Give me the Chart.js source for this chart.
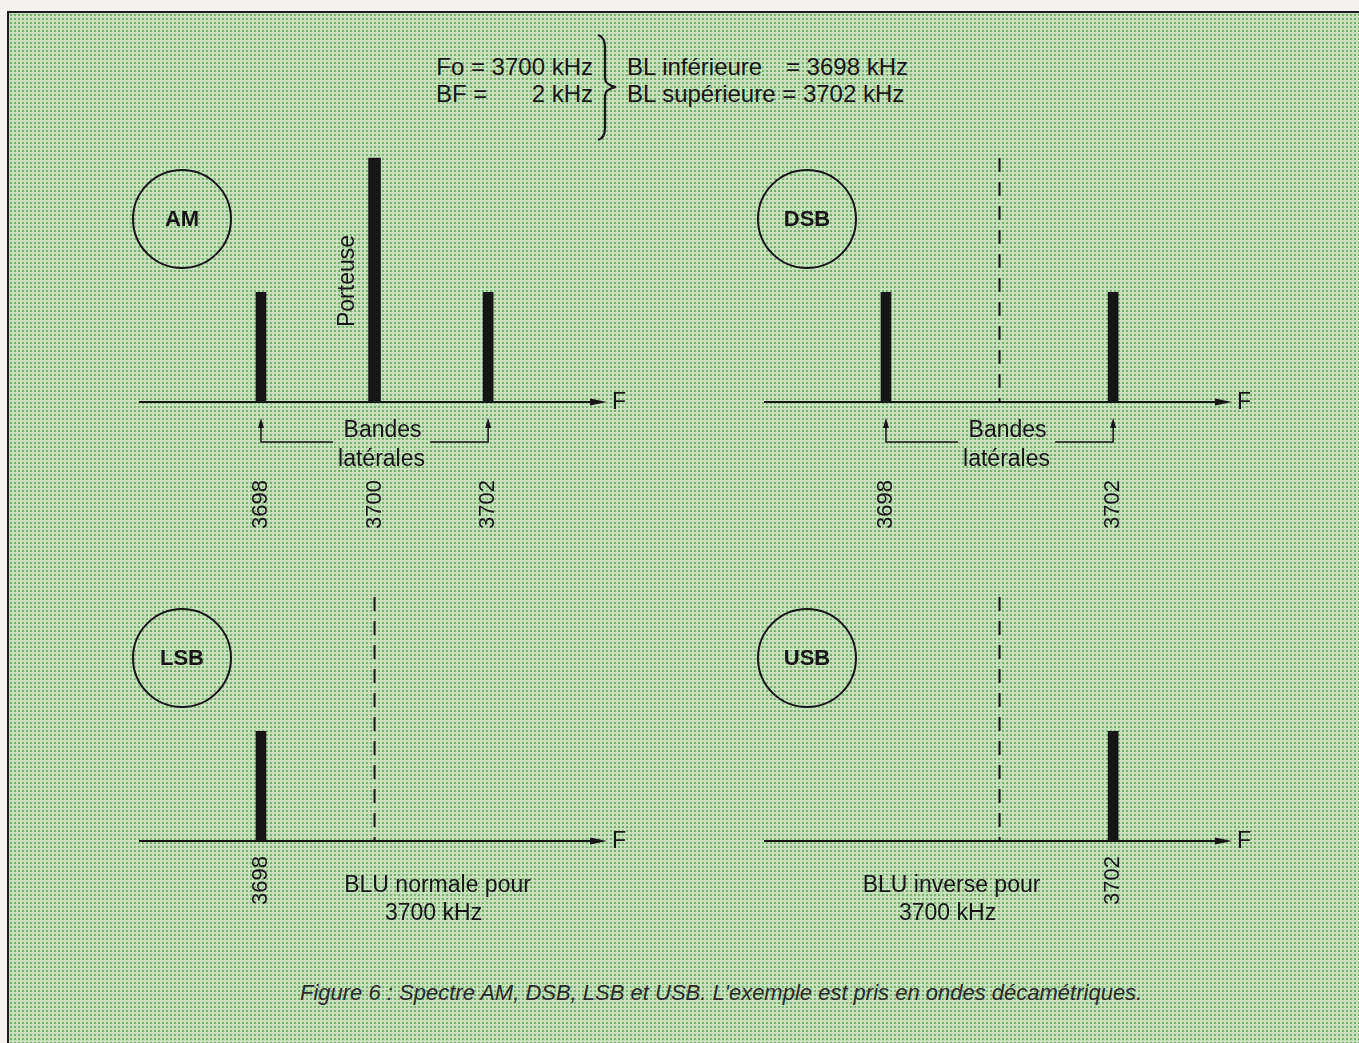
<!DOCTYPE html>
<html>
<head>
<meta charset="utf-8">
<script src="https://cdn.jsdelivr.net/npm/chart.js@4.4.0/dist/chart.umd.min.js"></script>
<style>
  body { margin: 0; background: #f3f2ee; }
  #page { position: relative; width: 1359px; height: 1043px; overflow: hidden;
          font-family: "Liberation Sans", Arial, Helvetica, sans-serif; color: #161616; }
  #sheet { position: absolute; left: 7px; top: 11px; right: -5px; bottom: -5px;
           border-left: 2px solid #1d1d1d; border-top: 2px solid #1d1d1d;
           background-color: #c8e2bd;
           background-image: radial-gradient(circle, #74b06c 1.1px, transparent 1.6px);
           background-size: 4px 4px; }
  canvas { position: absolute; }
  .hd { position: absolute; font-size: 24px; line-height: 24px; white-space: pre; }
  #caption { position: absolute; left: 300px; width: 830px; top: 982px; text-align: center;
             font-style: italic; font-size: 22px; line-height: 22px; color: #2a2a2a; white-space: nowrap; }
</style>
</head>
<body>
<div id="page">
  <div id="sheet"></div>

  <div class="hd" style="left:300px;width:293px;top:55px;text-align:right">Fo = 3700 kHz</div>
  <div class="hd" style="left:436px;top:82px">BF =</div>
  <div class="hd" style="left:300px;width:293px;top:82px;text-align:right">2 kHz</div>
  <svg style="position:absolute;left:590px;top:30px" width="34" height="115">
    <path d="M8 5 Q15 7 15 18 L15 48 Q15 55 26 57 Q15 59 15 66 L15 98 Q15 108 8 110"
          fill="none" stroke="#161616" stroke-width="2.2"/>
  </svg>
  <div class="hd" style="left:627px;top:55px">BL inférieure</div>
  <div class="hd" style="left:600px;width:308px;top:55px;text-align:right">= 3698 kHz</div>
  <div class="hd" style="left:627px;top:82px">BL supérieure = 3702 kHz</div>

  <canvas id="amChart" width="560" height="420" style="left:100px;top:140px"></canvas>
  <canvas id="dsbChart" width="560" height="420" style="left:725px;top:140px"></canvas>
  <canvas id="lsbChart" width="560" height="380" style="left:100px;top:579px"></canvas>
  <canvas id="usbChart" width="560" height="380" style="left:725px;top:579px"></canvas>

  <div id="caption">Figure 6 : Spectre AM, DSB, LSB et USB. L'exemple est pris en ondes décamétriques.</div>
</div>

<script>
const ink = '#161616';
const family = '"Liberation Sans", Arial, Helvetica, sans-serif';

// frequencies in kHz, levels in arbitrary units (carrier = 10)
const carrierFreq = 3700;
const carrierLevel = 10;

const tickAM = [3698, 3700, 3702];
const tickDSB = [3698, 3702];
const tickLSB = [3698];
const tickUSB = [3702];

const sideFreqAM = [3698, 3702];
const sideLevelAM = [4.5, 4.5];

const sideFreqDSB = [3698, 3702];
const sideLevelDSB = [4.5, 4.5];

const sideFreqLSB = [3698];
const sideLevelLSB = [4.5];

const sideFreqUSB = [3702];
const sideLevelUSB = [4.5];

const freqMin = 3695.87;
const freqMax = 3703.97;
const levelMax = 10.33;

function points(freqs, levels) {
  return freqs.map((f, i) => ({ x: f, y: levels[i] }));
}

function barSet(freqs, levels, thick) {
  return {
    type: 'bar',
    data: points(freqs, levels),
    backgroundColor: ink,
    barThickness: thick,
    grouped: false
  };
}

// carrier shown dashed when it is suppressed
function dashedCarrier() {
  return {
    type: 'line',
    data: [{ x: carrierFreq, y: carrierLevel }, { x: carrierFreq, y: 0 }],
    borderColor: ink,
    borderWidth: 2,
    borderDash: [14, 10],
    pointRadius: 0
  };
}

const spectrumDecor = {
  id: 'spectrumDecor',
  afterDatasetsDraw(chart, args, o) {
    const ctx = chart.ctx;
    const area = chart.chartArea;
    const x = chart.scales.x;
    const axisY = chart.scales.y.getPixelForValue(0);
    const xc = x.getPixelForValue(carrierFreq);
    ctx.save();
    ctx.fillStyle = ink;
    ctx.strokeStyle = ink;

    // arrow at the end of the F axis
    ctx.beginPath();
    ctx.moveTo(area.right + 7, axisY);
    ctx.lineTo(area.right - 10, axisY - 3.5);
    ctx.lineTo(area.right - 10, axisY + 3.5);
    ctx.closePath();
    ctx.fill();
    ctx.font = '23px ' + family;
    ctx.textAlign = 'left';
    ctx.textBaseline = 'middle';
    ctx.fillText('F', area.right + 12, axisY + 1);

    // mode circle
    ctx.lineWidth = 2;
    ctx.beginPath();
    ctx.arc(area.left + 42, area.top + 69, 49, 0, Math.PI * 2);
    ctx.stroke();
    ctx.font = 'bold 22px ' + family;
    ctx.textAlign = 'center';
    ctx.fillText(o.mode, area.left + 42, area.top + 70);

    ctx.font = '23px ' + family;
    if (o.porteuse) {
      ctx.save();
      ctx.translate(xc - 27, area.top + 131);
      ctx.rotate(-Math.PI / 2);
      ctx.fillText('Porteuse', 0, 0);
      ctx.restore();
    }

    if (o.bandes) {
      const xl = x.getPixelForValue(3698);
      const xr = x.getPixelForValue(3702);
      const yl = axisY + 40;
      const yt = axisY + 16;
      ctx.lineWidth = 1.5;
      ctx.beginPath();
      ctx.moveTo(xl + 72, yl); ctx.lineTo(xl, yl); ctx.lineTo(xl, yt + 6);
      ctx.moveTo(xr - 58, yl); ctx.lineTo(xr, yl); ctx.lineTo(xr, yt + 6);
      ctx.stroke();
      [xl, xr].forEach(px => {
        ctx.beginPath();
        ctx.moveTo(px, yt);
        ctx.lineTo(px - 3, yt + 10);
        ctx.lineTo(px + 3, yt + 10);
        ctx.closePath();
        ctx.fill();
      });
      ctx.fillText('Bandes', xc + 8, axisY + 29);
      ctx.fillText('latérales', xc + 7, axisY + 58);
    }

    if (o.note) {
      ctx.fillText(o.note[0], xc + o.noteDx, axisY + 45);
      ctx.fillText(o.note[1], xc + o.noteDx - 4, axisY + 73);
    }
    ctx.restore();
  }
};

function makeChart(id, datasets, ticks, tickPad, xHeight, decor) {
  return new Chart(document.getElementById(id), {
    data: { datasets: datasets },
    plugins: [spectrumDecor],
    options: {
      responsive: false,
      animation: false,
      events: [],
      layout: { padding: { left: 40, right: 60, top: 10, bottom: 0 } },
      scales: {
        x: {
          type: 'linear',
          offset: false,
          bounds: 'ticks',
          min: freqMin,
          max: freqMax,
          grid: { display: false, drawTicks: false, offset: false },
          border: { display: true, color: ink, width: 2 },
          afterBuildTicks: (scale) => { scale.ticks = ticks.map(v => ({ value: v })); },
          afterFit: (scale) => { scale.height = xHeight; },
          ticks: {
            autoSkip: false,
            minRotation: 90,
            maxRotation: 90,
            padding: tickPad,
            color: ink,
            font: { family: family, size: 22 },
            callback: (v) => String(v)
          }
        },
        y: { display: false, min: 0, max: levelMax }
      },
      plugins: {
        legend: { display: false },
        tooltip: { enabled: false },
        spectrumDecor: decor
      }
    }
  });
}

makeChart('amChart',
  [barSet(sideFreqAM, sideLevelAM, 10), barSet([carrierFreq], [carrierLevel], 12)],
  tickAM, 78, 158, { mode: 'AM', porteuse: true, bandes: true });

makeChart('dsbChart',
  [barSet(sideFreqDSB, sideLevelDSB, 10), dashedCarrier()],
  tickDSB, 78, 158, { mode: 'DSB', bandes: true });

makeChart('lsbChart',
  [barSet(sideFreqLSB, sideLevelLSB, 10), dashedCarrier()],
  tickLSB, 15, 118, { mode: 'LSB', note: ['BLU normale pour', '3700 kHz'], noteDx: 63 });

makeChart('usbChart',
  [barSet(sideFreqUSB, sideLevelUSB, 10), dashedCarrier()],
  tickUSB, 15, 118, { mode: 'USB', note: ['BLU inverse pour', '3700 kHz'], noteDx: -48 });
</script>
</body>
</html>
